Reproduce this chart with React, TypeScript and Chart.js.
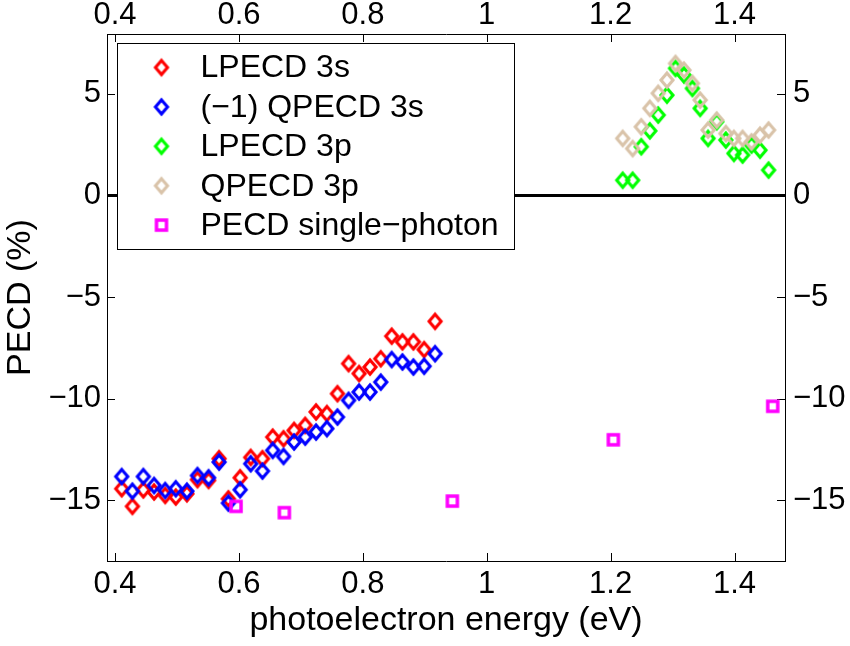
import React, { useEffect, useRef } from 'react';
import { Chart, registerables } from 'chart.js';

Chart.register(...registerables);

// ---------- data ----------
const energy3s = [0.4108, 0.428, 0.4457, 0.463, 0.481, 0.498, 0.516, 0.533, 0.551, 0.568, 0.583, 0.602, 0.619, 0.638, 0.6545, 0.672, 0.689, 0.707, 0.7245, 0.742, 0.759, 0.777, 0.794, 0.8116, 0.829, 0.8466, 0.864, 0.8816, 0.899, 0.9166];
const lpecd3s = [-14.44, -15.31, -14.5, -14.6, -14.77, -14.85, -14.69, -13.99, -14.03, -12.96, -14.94, -13.9, -12.9, -12.96, -11.9, -11.98, -11.57, -11.32, -10.66, -10.74, -9.76, -8.28, -8.77, -8.45, -8.04, -6.93, -7.21, -7.21, -7.59, -6.2];
const qpecd3sNeg = [-13.84, -14.56, -13.84, -14.28, -14.53, -14.44, -14.56, -13.79, -13.9, -13.13, -15.15, -14.49, -13.21, -13.57, -12.55, -12.85, -12.14, -11.9, -11.65, -11.48, -10.91, -10.09, -9.68, -9.68, -9.19, -8.08, -8.2, -8.45, -8.41, -7.79];

const energy3p = [1.2195, 1.2356, 1.2495, 1.2633, 1.2768, 1.291, 1.3048, 1.3185, 1.332, 1.3445, 1.3573, 1.3713, 1.386, 1.399, 1.413, 1.4275, 1.4412, 1.455];
const lpecd3p = [0.75, 0.75, 2.4, 3.18, 3.96, 4.94, 6.26, 5.93, 5.27, 4.29, 2.81, 3.63, 2.73, 2.07, 1.99, 2.48, 2.23, 1.25];
const qpecd3p = [2.81, 2.31, 3.38, 4.29, 5.03, 5.68, 6.5, 6.17, 5.52, 4.7, 3.22, 3.71, 3.05, 2.81, 2.81, 2.64, 2.97, 3.22];

const energy1ph = [0.5953, 0.6733, 0.9445, 1.2044, 1.4617];
const pecd1ph = [-15.31, -15.62, -15.05, -12.03, -10.38];

const seriesLabels = ['LPECD 3s', '(\u22121) QPECD 3s', 'LPECD 3p', 'QPECD 3p', 'PECD single\u2212photon'];
const xTicks = [0.4, 0.6, 0.8, 1, 1.2, 1.4];
const yTicks = [-15, -10, -5, 0, 5];
const xRange = [0.387, 1.4815];
const yRange = [-18, 7.95];

const FONT = '"Liberation Sans", Arial, Helvetica, sans-serif';

function fmt(v: number): string {
  const n = Math.round(Number(v) * 10) / 10;
  return (n < 0 ? '\u2212' : '') + String(Math.abs(n));
}

function diamond(color: string): HTMLCanvasElement {
  const c = document.createElement('canvas');
  c.width = 20;
  c.height = 22;
  const g = c.getContext('2d')!;
  g.strokeStyle = color;
  g.lineWidth = 3.1;
  g.lineJoin = 'miter';
  g.beginPath();
  g.moveTo(10, 4);
  g.lineTo(16, 11);
  g.lineTo(10, 18);
  g.lineTo(4, 11);
  g.closePath();
  g.stroke();
  return c;
}

function square(color: string): HTMLCanvasElement {
  const c = document.createElement('canvas');
  c.width = 16;
  c.height = 16;
  const g = c.getContext('2d')!;
  g.strokeStyle = color;
  g.lineWidth = 3.5;
  g.lineJoin = 'miter';
  g.strokeRect(3, 3, 10, 10);
  return c;
}

const zip = (xs: number[], ys: number[]) => xs.map((x, i) => ({ x, y: ys[i] }));

export default function App() {
  const ref = useRef<HTMLCanvasElement | null>(null);

  useEffect(() => {
    if (!ref.current) return;
    const styles = [
      diamond('#ff0000'),
      diamond('#0000ff'),
      diamond('#00ff00'),
      diamond('#d9c3a9'),
      square('#ff00ff'),
    ];

    const frameAndLegend = {
      id: 'frameAndLegend',
      beforeDatasetsDraw(chart: any) {
        const { ctx, chartArea, scales } = chart;
        const { left, right, top, bottom } = chartArea;
        ctx.save();
        ctx.strokeStyle = '#000';
        ctx.lineWidth = 1;
        const tl = 8;
        ctx.beginPath();
        for (const v of xTicks) {
          const px = Math.round(scales.x.getPixelForValue(v)) + 0.5;
          ctx.moveTo(px, bottom);
          ctx.lineTo(px, bottom - tl);
          ctx.moveTo(px, top);
          ctx.lineTo(px, top + tl);
        }
        for (const v of yTicks) {
          const py = Math.round(scales.y.getPixelForValue(v)) + 0.5;
          ctx.moveTo(left, py);
          ctx.lineTo(left + tl, py);
          ctx.moveTo(right, py);
          ctx.lineTo(right - tl, py);
        }
        ctx.stroke();
        const y0 = scales.y.getPixelForValue(0);
        ctx.lineWidth = 3;
        ctx.beginPath();
        ctx.moveTo(left, y0);
        ctx.lineTo(right, y0);
        ctx.stroke();
        ctx.restore();
      },
      afterDatasetsDraw(chart: any) {
        const { ctx, chartArea } = chart;
        const bx = Math.round(chartArea.left + 10) + 0.5;
        const by = Math.round(chartArea.top + 9) + 0.5;
        const bw = 397;
        const bh = 206;
        ctx.save();
        ctx.fillStyle = '#fff';
        ctx.fillRect(bx, by, bw, bh);
        ctx.strokeStyle = '#000';
        ctx.lineWidth = 1;
        ctx.strokeRect(bx, by, bw, bh);
        ctx.font = `32px ${FONT}`;
        ctx.fillStyle = '#000';
        ctx.textBaseline = 'middle';
        ctx.textAlign = 'left';
        chart.data.datasets.forEach((ds: any, i: number) => {
          const cy = by + 24 + i * 39.4;
          const img = ds.pointStyle as HTMLCanvasElement;
          ctx.drawImage(img, bx + 44 - img.width / 2, cy - img.height / 2);
          ctx.fillText(ds.label, bx + 83, cy + 1);
        });
        ctx.restore();
      },
    };

    const tickFont = { family: FONT, size: 31 };
    const common = (pos: string) => ({
      type: 'linear' as const,
      position: pos,
      grid: { display: false, drawTicks: false },
      border: { display: true, color: '#000', width: 1 },
    });

    const chart = new Chart(ref.current, {
      type: 'scatter',
      data: {
        datasets: [
          { label: seriesLabels[0], data: zip(energy3s, lpecd3s), pointStyle: styles[0], pointRadius: 8, order: 4 },
          { label: seriesLabels[1], data: zip(energy3s, qpecd3sNeg), pointStyle: styles[1], pointRadius: 8, order: 3 },
          { label: seriesLabels[2], data: zip(energy3p, lpecd3p), pointStyle: styles[2], pointRadius: 8, order: 2 },
          { label: seriesLabels[3], data: zip(energy3p, qpecd3p), pointStyle: styles[3], pointRadius: 8, order: 1 },
          { label: seriesLabels[4], data: zip(energy1ph, pecd1ph), pointStyle: styles[4], pointRadius: 8, order: 0 },
        ] as any,
      },
      options: {
        responsive: false,
        animation: false,
        layout: { padding: 0 },
        plugins: { legend: { display: false }, tooltip: { enabled: false } },
        scales: {
          x: {
            ...common('bottom'),
            min: xRange[0],
            max: xRange[1],
            afterFit: (s: any) => { s.height = 85; },
            afterBuildTicks: (s: any) => { s.ticks = xTicks.map((v) => ({ value: v })); },
            ticks: { font: tickFont, color: '#000', padding: 5, maxRotation: 0, autoSkip: false, callback: (v: any) => fmt(v) },
            title: { display: true, text: 'photoelectron energy (eV)', color: '#000', font: { family: FONT, size: 34 }, padding: { top: 0, bottom: 5 } },
          },
          x2: {
            ...common('top'),
            min: xRange[0],
            max: xRange[1],
            afterFit: (s: any) => { s.height = 34; },
            afterBuildTicks: (s: any) => { s.ticks = xTicks.map((v) => ({ value: v })); },
            ticks: { font: tickFont, color: '#000', padding: 0, maxRotation: 0, autoSkip: false, callback: (v: any) => fmt(v) },
          },
          y: {
            ...common('left'),
            min: yRange[0],
            max: yRange[1],
            afterFit: (s: any) => { s.width = 107; },
            afterBuildTicks: (s: any) => { s.ticks = yTicks.map((v) => ({ value: v })); },
            ticks: { font: tickFont, color: '#000', padding: 6, autoSkip: false, callback: (v: any) => fmt(v) },
            title: { display: true, text: 'PECD (%)', color: '#000', font: { family: FONT, size: 34 }, padding: { top: 0, bottom: 0 } },
          },
          y2: {
            ...common('right'),
            min: yRange[0],
            max: yRange[1],
            afterFit: (s: any) => { s.width = 65; },
            afterBuildTicks: (s: any) => { s.ticks = yTicks.map((v) => ({ value: v })); },
            ticks: { font: tickFont, color: '#000', padding: 8, autoSkip: false, callback: (v: any) => fmt(v) },
          },
        } as any,
      },
      plugins: [frameAndLegend],
    });

    return () => chart.destroy();
  }, []);

  return (
    <div style={{ position: 'absolute', left: 0, top: 0, width: 850, height: 646, background: '#fff' }}>
      <canvas ref={ref} width={850} height={646} />
    </div>
  );
}
